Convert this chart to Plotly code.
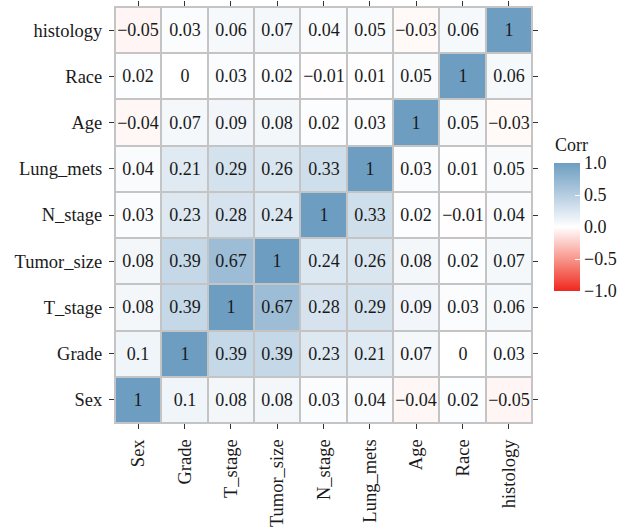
import plotly.graph_objects as go

variables = ["Sex", "Grade", "T_stage", "Tumor_size", "N_stage", "Lung_mets", "Age", "Race", "histology"]

# correlation matrix, rows in the same order as variables (bottom to top on y axis)
corr = [
    [1, 0.1, 0.08, 0.08, 0.03, 0.04, -0.04, 0.02, -0.05],   # Sex
    [0.1, 1, 0.39, 0.39, 0.23, 0.21, 0.07, 0, 0.03],        # Grade
    [0.08, 0.39, 1, 0.67, 0.28, 0.29, 0.09, 0.03, 0.06],    # T_stage
    [0.08, 0.39, 0.67, 1, 0.24, 0.26, 0.08, 0.02, 0.07],    # Tumor_size
    [0.03, 0.23, 0.28, 0.24, 1, 0.33, 0.02, -0.01, 0.04],   # N_stage
    [0.04, 0.21, 0.29, 0.26, 0.33, 1, 0.03, 0.01, 0.05],    # Lung_mets
    [-0.04, 0.07, 0.09, 0.08, 0.02, 0.03, 1, 0.05, -0.03],  # Age
    [0.02, 0, 0.03, 0.02, -0.01, 0.01, 0.05, 1, 0.06],      # Race
    [-0.05, 0.03, 0.06, 0.07, 0.04, 0.05, -0.03, 0.06, 1],  # histology
]

colorbar_ticks = [-1.0, -0.5, 0.0, 0.5, 1.0]
colorbar_ticktext = ["\u22121.0", "\u22120.5", "0.0", "0.5", "1.0"]
legend_title = "Corr"


def fmt(v):
    s = ("%.2f" % v).rstrip("0").rstrip(".")
    if s in ("-0", ""):
        s = "0"
    return s.replace("-", "\u2212")


text = [[fmt(v) for v in row] for row in corr]

FONT = "'Liberation Serif', 'DejaVu Serif', serif"
INK = "#1a1a1a"

fig = go.Figure(
    go.Heatmap(
        z=corr,
        x=variables,
        y=variables,
        text=text,
        texttemplate="%{text}",
        textfont=dict(family=FONT, size=18, color=INK),
        zmin=-1,
        zmax=1,
        colorscale=[
            [0.0, "#F0281E"],
            [0.25, "#F8968C"],
            [0.5, "#FFFFFF"],
            [0.75, "#B5CDE1"],
            [1.0, "#6D9EC1"],
        ],
        xgap=2,
        ygap=2,
        hoverinfo="skip",
        colorbar=dict(
            tickvals=colorbar_ticks,
            ticktext=colorbar_ticktext,
            tickfont=dict(family=FONT, size=18, color=INK),
            thickness=26,
            lenmode="pixels",
            len=128,
            x=1.053,
            xanchor="left",
            xpad=0,
            y=0.471,
            yanchor="middle",
            ypad=0,
            outlinewidth=0,
            ticks="inside",
            ticklen=5,
            tickcolor="white",
            ticklabelposition="outside",
        ),
    )
)

fig.add_annotation(
    text=legend_title,
    xref="paper",
    yref="paper",
    x=1.050,
    y=0.668,
    xanchor="left",
    yanchor="middle",
    showarrow=False,
    font=dict(family=FONT, size=18, color=INK),
)

fig.update_layout(
    width=621,
    height=529,
    margin=dict(l=115, r=89, t=7, b=106, autoexpand=False),
    plot_bgcolor="#C4C4C4",
    paper_bgcolor="white",
    font=dict(family=FONT, size=18, color=INK),
)

axis_common = dict(
    showgrid=False,
    zeroline=False,
    showline=True,
    linecolor="#C4C4C4",
    linewidth=1,
    mirror="ticks",
    ticks="outside",
    ticklen=5,
    tickcolor="#333333",
    tickwidth=1,
    ticklabelstandoff=3,
    automargin=False,
    tickfont=dict(family=FONT, size=18.5, color=INK),
)
fig.update_xaxes(tickangle=-90, **axis_common)
fig.update_yaxes(**axis_common)

fig.write_html("out.html")
